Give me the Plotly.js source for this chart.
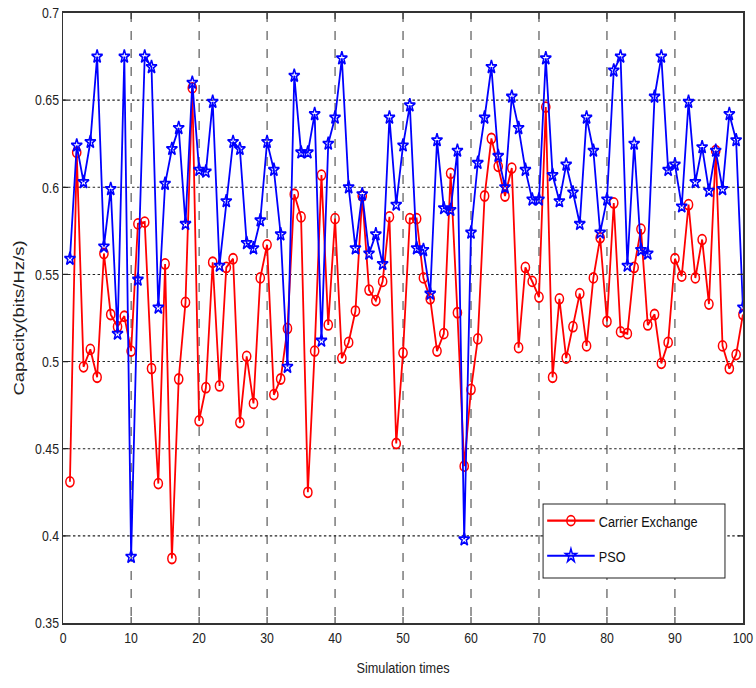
<!DOCTYPE html>
<html>
<head>
<meta charset="utf-8">
<script src="https://cdn.plot.ly/plotly-3.0.1.min.js"></script>
<style>
  html, body { margin: 0; padding: 0; background: #fff; overflow: hidden; }
  /* The figure is laid out wide and then condensed horizontally */
  #chart { width: 922px; height: 688px; transform: scaleX(0.82); transform-origin: 0 0; }
</style>
</head>
<body>
<div id="chart"></div>
<script>
// Simulation run index (1..100)
const runs = Array.from({length: 100}, (_, k) => k + 1);

// Capacity per run for the carrier exchange scheme
const carrierExchange = [
  0.431, 0.620, 0.497, 0.507, 0.491, 0.562, 0.527, 0.520, 0.526, 0.506,
  0.579, 0.580, 0.496, 0.430, 0.556, 0.387, 0.490, 0.534, 0.657, 0.466,
  0.485, 0.557, 0.486, 0.554, 0.559, 0.465, 0.503, 0.476, 0.548, 0.567,
  0.481, 0.490, 0.519, 0.596, 0.583, 0.425, 0.506, 0.607, 0.521, 0.582,
  0.502, 0.511, 0.529, 0.595, 0.541, 0.535, 0.546, 0.583, 0.453, 0.505,
  0.582, 0.582, 0.548, 0.536, 0.506, 0.516, 0.608, 0.528, 0.440, 0.484,
  0.513, 0.595, 0.628, 0.612, 0.595, 0.611, 0.508, 0.554, 0.546, 0.537,
  0.646, 0.491, 0.536, 0.502, 0.520, 0.539, 0.509, 0.548, 0.571, 0.523,
  0.591, 0.517, 0.516, 0.554, 0.576, 0.521, 0.527, 0.499, 0.511, 0.559,
  0.549, 0.590, 0.548, 0.570, 0.533, 0.621, 0.509, 0.496, 0.504, 0.527
];

// Capacity per run for PSO
const pso = [
  0.559, 0.624, 0.603, 0.626, 0.675, 0.566, 0.599, 0.516, 0.675, 0.388,
  0.547, 0.675, 0.669, 0.531, 0.602, 0.622, 0.634, 0.579, 0.660, 0.610,
  0.609, 0.649, 0.555, 0.592, 0.626, 0.622, 0.568, 0.565, 0.581, 0.626,
  0.610, 0.573, 0.497, 0.664, 0.620, 0.620, 0.642, 0.512, 0.625, 0.640,
  0.674, 0.600, 0.565, 0.596, 0.562, 0.573, 0.556, 0.640, 0.590, 0.624,
  0.647, 0.565, 0.564, 0.539, 0.627, 0.588, 0.587, 0.621, 0.398, 0.574,
  0.614, 0.640, 0.669, 0.618, 0.600, 0.652, 0.634, 0.610, 0.593, 0.593,
  0.674, 0.607, 0.592, 0.613, 0.597, 0.579, 0.640, 0.621, 0.574, 0.593,
  0.667, 0.675, 0.555, 0.625, 0.564, 0.562, 0.652, 0.675, 0.610, 0.613,
  0.589, 0.649, 0.603, 0.623, 0.598, 0.621, 0.599, 0.642, 0.627, 0.531
];

const seriesNames = ['Carrier Exchange', 'PSO'];
const xTicks = [0, 10, 20, 30, 40, 50, 60, 70, 80, 90, 100];
const yTicks = [0.35, 0.4, 0.45, 0.5, 0.55, 0.6, 0.65, 0.7];
const yTickText = ['0.35', '0.4', '0.45', '0.5', '0.55', '0.6', '0.65', '0.7'];

const sans = '"Liberation Sans", Arial, sans-serif';

const traces = [
  {
    x: runs, y: carrierExchange, name: seriesNames[0], legendgroup: 'ce',
    type: 'scatter', mode: 'lines+markers',
    line: {color: '#ff0000', width: 2.2},
    marker: {symbol: 'circle-open', size: 10, color: '#ff0000', line: {width: 1.8, color: '#ff0000'}}
  },
  {
    x: runs, y: pso, name: seriesNames[1], legendgroup: 'pso',
    type: 'scatter', mode: 'lines+markers',
    line: {color: '#0000ff', width: 2.2},
    marker: {symbol: 'star-open', size: 10, color: '#0000ff', line: {width: 1.8, color: '#0000ff'}}
  }
];

const axisCommon = {
  showline: true, linecolor: '#333', linewidth: 2, mirror: 'ticks',
  ticks: 'inside', ticklen: 6, tickcolor: '#222', tickwidth: 1.2,
  showgrid: true, gridcolor: '#222', gridwidth: 1.1,
  zeroline: false,
  tickfont: {family: sans, size: 15, color: '#222'}
};

const layout = {
  width: 922, height: 688,
  margin: {l: 77, r: 16, t: 13, b: 65},
  paper_bgcolor: '#fff', plot_bgcolor: '#fff',
  showlegend: true,
  legend: {
    x: 0.706, y: 0.195, xanchor: 'left', yanchor: 'top',
    bgcolor: 'rgba(0,0,0,0)', borderwidth: 0,
    font: {family: sans, size: 15.5, color: '#111'},
    itemwidth: 58, tracegroupgap: 12
  },
  // framed white panel behind the legend entries
  shapes: [{
    type: 'rect', xref: 'paper', yref: 'paper', layer: 'above',
    x0: 0.706, x1: 0.9736, y0: 0.0738, y1: 0.1951,
    fillcolor: '#fff', line: {color: '#222', width: 1.2}
  }],
  xaxis: Object.assign({}, axisCommon, {
    range: [0, 100], tickvals: xTicks, griddash: 'dash',
    title: {text: 'Simulation times', font: {family: sans, size: 15.5, color: '#222'}, standoff: 17}
  }),
  yaxis: Object.assign({}, axisCommon, {
    range: [0.35, 0.7], tickvals: yTicks, ticktext: yTickText, griddash: 'dot',
    title: {text: 'Capacity(bits/Hz/s)', font: {family: sans, size: 18.5, color: '#222'}, standoff: 8}
  })
};

Plotly.newPlot('chart', traces, layout, {staticPlot: true, displayModeBar: false});
</script>
</body>
</html>
